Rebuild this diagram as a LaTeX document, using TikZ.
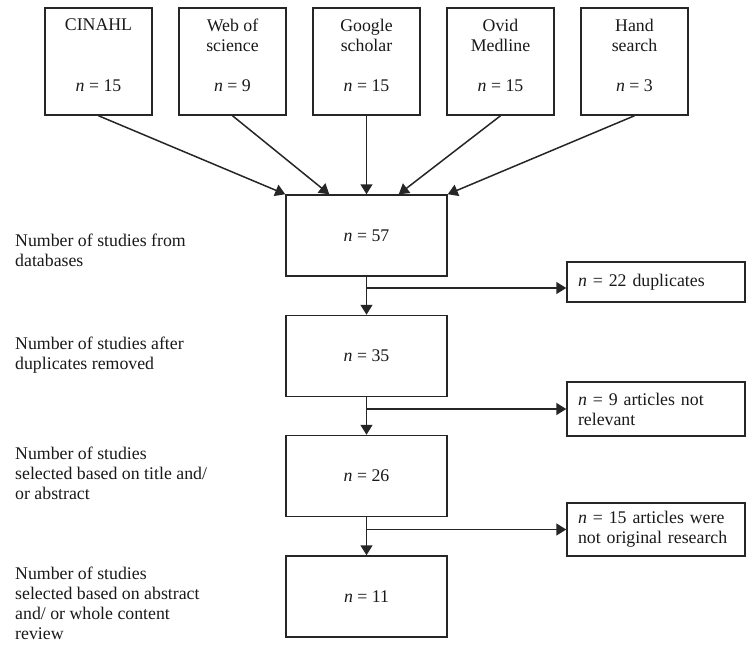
\documentclass[tikz,border=0pt]{standalone}
\usepackage{fontspec}
\setmainfont{Liberation Serif}
\usetikzlibrary{arrows.meta}
\newcommand{\fsz}{\fontsize{17.8}{20}\selectfont}
\newcommand{\srcbox}[2]{\begin{minipage}[c][107pt][t]{105pt}\centering\vspace*{11pt}#1\par\vfill\textit{n} = #2\par\vspace*{23pt}\end{minipage}}
\begin{document}
\begin{tikzpicture}[x=1pt,y=-1pt,
  every node/.style={font=\fsz, text=black!90},
  src/.style={draw=black!85, line width=1.5pt, minimum width=107pt, minimum height=107pt, inner sep=0pt},
  mainbox/.style={draw=black!85, line width=1.5pt, minimum width=161pt, minimum height=81pt, inner sep=0pt},
  sidebox/.style={draw=black!85, line width=1.5pt, minimum width=178pt, text width=156pt, inner xsep=11pt, inner ysep=0pt, align=left},
  lbl/.style={anchor=west, align=left, inner sep=0pt},
  arr/.style={draw=black!85, line width=1.5pt, -{Triangle[length=10pt,width=12pt]}}
]
\useasboundingbox (0,0) rectangle (746,647);

% source boxes
\node[src] (cin) at (98.5,61.5) {\srcbox{CINAHL}{15}};
\node[src] (wos) at (232.5,61.5) {\srcbox{Web of\\science}{9}};
\node[src] (gs)  at (366.5,61.5) {\srcbox{Google\\scholar}{15}};
\node[src] (ovid) at (500.5,61.5) {\srcbox{Ovid\\Medline}{15}};
\node[src] (hand) at (634.5,61.5) {\srcbox{Hand\\search}{3}};

% main boxes
\node[mainbox] (m1) at (366.5,235.5) {\textit{n} = 57};
\node[mainbox] (m2) at (366.5,356) {\textit{n} = 35};
\node[mainbox] (m3) at (366.5,476) {\textit{n} = 26};
\node[mainbox] (m4) at (366.5,596.5) {\textit{n} = 11};

% side boxes
\node[sidebox, minimum height=40pt] (d1) at (656,282) {\textit{n} = 22 duplicates};
\node[sidebox, minimum height=54pt] (d2) at (656,409) {\textit{n} = 9 articles not\\relevant};
\node[sidebox, minimum height=53pt] (d3) at (656,529.5) {\textit{n} = 15 articles were\\not original research};

% left labels
\node[lbl] (l1) at (15,250) {Number of studies from\\databases};
\node[lbl] (l2) at (15,355.5) {Number of studies after\\duplicates removed};
\node[lbl] (l3) at (15,473) {Number of studies\\selected based on title and/\\or abstract};
\node[lbl] (l4) at (15,603) {Number of studies\\selected based on abstract\\and/ or whole content\\review};

% arrows from sources
\draw[arr] (cin.south) -- (m1.north west);
\draw[arr] (wos.south) -- ([xshift=44pt]m1.north west);
\draw[arr] (gs.south) -- (m1.north);
\draw[arr] (ovid.south) -- ([xshift=-49pt]m1.north east);
\draw[arr] (hand.south) -- (m1.north east);

% vertical flow
\draw[arr] (m1.south) -- (m2.north);
\draw[arr] (m2.south) -- (m3.north);
\draw[arr] (m3.south) -- (m4.north);

% branches
\coordinate (j1) at (366.5,288);
\coordinate (j2) at (366.5,409);
\coordinate (j3) at (366.5,529.5);
\draw[arr] (j1) -- (j1 -| d1.west);
\draw[arr] (j2) -- (j2 -| d2.west);
\draw[arr] (j3) -- (j3 -| d3.west);
\end{tikzpicture}
\end{document}
